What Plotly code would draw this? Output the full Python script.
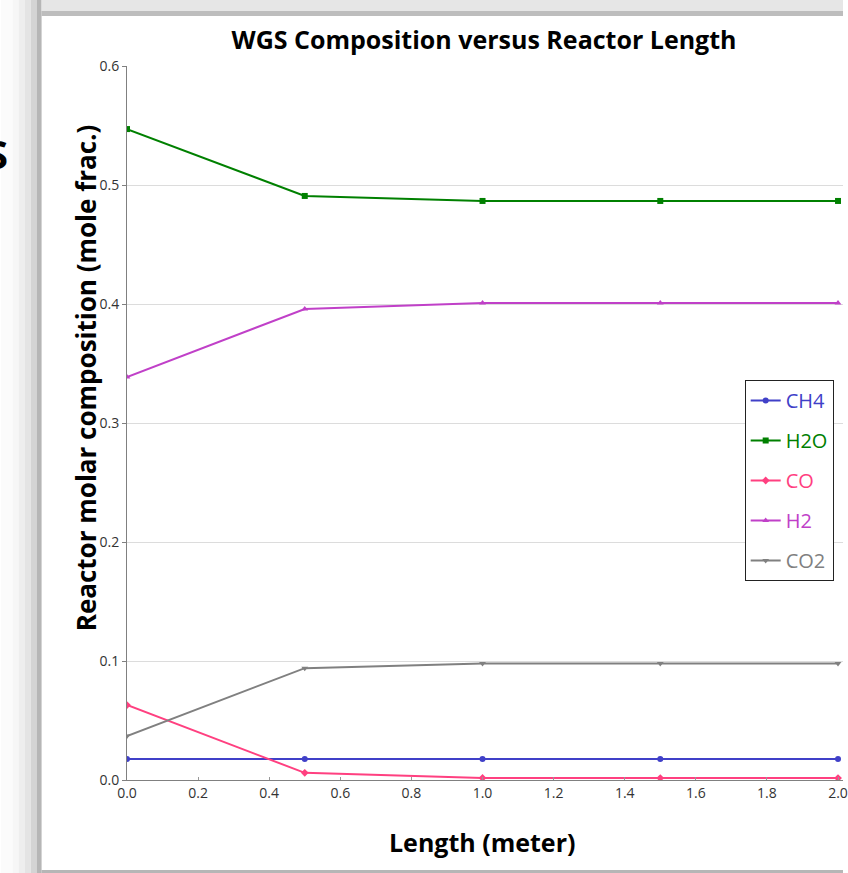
import plotly.graph_objects as go

# ---- data ----
length_m = [0.0, 0.5, 1.0, 1.5, 2.0]
ch4 = [0.0176, 0.0176, 0.0176, 0.0176, 0.0176]
h2o = [0.547, 0.4908, 0.4866, 0.4866, 0.4866]
co = [0.063, 0.0060, 0.0017, 0.0016, 0.0016]
h2 = [0.3387, 0.3958, 0.4008, 0.4008, 0.4008]
co2 = [0.037, 0.094, 0.098, 0.098, 0.098]

series_names = ["CH4", "H2O", "CO", "H2", "CO2"]
series_values = [ch4, h2o, co, h2, co2]
series_colors = ["#4040C8", "#008000", "#FF4080", "#C040C8", "#808080"]
series_symbols = ["circle", "square", "diamond", "triangle-up", "triangle-down"]

x_ticks = [0.0, 0.2, 0.4, 0.6, 0.8, 1.0, 1.2, 1.4, 1.6, 1.8, 2.0]
y_ticks = [0.0, 0.1, 0.2, 0.3, 0.4, 0.5, 0.6]

W, H = 848, 873
L, R, T, B = 127, 0, 66, 93
pw, ph = W - L - R, H - T - B


def px2x(px):
    return (px - L) / pw


def py2y(py):
    return (H - B - py) / ph


FONT = "Open Sans"

fig = go.Figure()
for i, (name, vals, col, sym) in enumerate(zip(series_names, series_values, series_colors, series_symbols)):
    fig.add_trace(go.Scatter(
        x=length_m, y=vals, mode="lines+markers",
        name=f"<span style='color:{col}'>{name}</span>",
        legendgroup=f"g{i}",
        line=dict(color=col, width=2),
        marker=dict(symbol=sym, size=6, color=col),
    ))

shapes = []
# screenshot frame / shadow
bands = [(0, 12, "#fbfbfb"), (12, 18, "#f6f6f6"), (18, 24, "#eeeeee"),
         (24, 30, "#e4e4e4"), (30, 36, "#d4d4d4"), (36, 41, "#b6b6b6")]
for x0, x1, c in bands:
    shapes.append(dict(type="rect", xref="paper", yref="paper", layer="below",
                       x0=px2x(x0), x1=px2x(x1), y0=py2y(H), y1=py2y(0),
                       fillcolor=c, line=dict(width=0)))
shapes.append(dict(type="rect", xref="paper", yref="paper", layer="below",
                   x0=px2x(41), x1=px2x(W), y0=py2y(11), y1=py2y(0),
                   fillcolor="#e6e6e6", line=dict(width=0)))
shapes.append(dict(type="rect", xref="paper", yref="paper", layer="below",
                   x0=px2x(41), x1=px2x(W), y0=py2y(16), y1=py2y(11),
                   fillcolor="#bdbdbd", line=dict(width=0)))
shapes.append(dict(type="rect", xref="paper", yref="paper", layer="below",
                   x0=px2x(41), x1=px2x(W), y0=py2y(H), y1=py2y(870),
                   fillcolor="#b6b6b6", line=dict(width=0)))

annotations = [
    dict(text="<b>Reactor molar composition (mole frac.)</b>", xref="paper", yref="paper",
         x=px2x(86), y=py2y(378), textangle=-90, showarrow=False,
         font=dict(family=FONT, size=26, color="#000"), xanchor="center", yanchor="middle"),
    dict(text="<b>Length (meter)</b>", xref="paper", yref="paper",
         x=px2x(484), y=py2y(842), showarrow=False,
         font=dict(family=FONT, size=25, color="#000"), xanchor="center", yanchor="middle"),
    dict(text="<b>S</b>", xref="paper", yref="paper",
         x=px2x(-4), y=py2y(153), showarrow=False,
         font=dict(family=FONT, size=40, color="#000"), xanchor="center", yanchor="middle"),
]

fig.update_layout(
    width=W, height=H,
    margin=dict(l=L, r=R, t=T, b=B, pad=0),
    paper_bgcolor="white", plot_bgcolor="white",
    title=dict(text="<b>WGS Composition versus Reactor Length</b>",
               x=484 / W, xanchor="center",
               y=1 - 40 / H, yanchor="middle", yref="container",
               font=dict(family=FONT, size=25, color="#000")),
    xaxis=dict(range=[0, pw / 358.0], tickvals=x_ticks, ticktext=[f"{v:.1f}" for v in x_ticks],
               showgrid=False, zeroline=False, showline=True, linecolor="#808080", linewidth=1,
               ticks="inside", ticklen=3, tickcolor="#999999", ticklabeloverflow="allow",
               tickfont=dict(family=FONT, size=14, color="#333")),
    yaxis=dict(range=[0, 0.6], tickvals=y_ticks, ticktext=[f"{v:.1f}" for v in y_ticks],
               showgrid=True, gridcolor="#dcdcdc", gridwidth=1, zeroline=False,
               showline=True, linecolor="#808080", linewidth=1,
               ticks="outside", ticklen=4, tickcolor="#808080",
               tickfont=dict(family=FONT, size=14, color="#333")),
    legend=dict(x=px2x(749), y=py2y(380), xanchor="left", yanchor="top",
                bgcolor="white", bordercolor="#222", borderwidth=1,
                font=dict(family=FONT, size=20), itemwidth=30,
                tracegroupgap=11),
    shapes=shapes,
    annotations=annotations,
)

fig.write_html("out.html", config={"displayModeBar": False},
               post_script="document.body.style.margin='0px';document.body.style.overflow='hidden';")
